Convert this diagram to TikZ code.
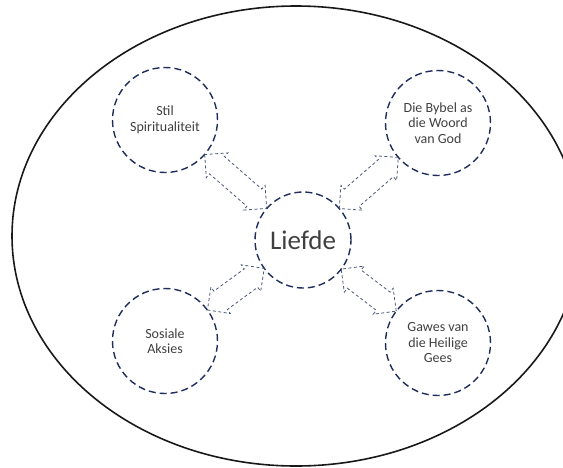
\documentclass[tikz,border=0pt]{standalone}
\usepackage{fontspec}
\setmainfont{Carlito}
\usetikzlibrary{calc}
\usetikzlibrary{shapes.arrows}
\definecolor{ringblue}{HTML}{1F2D5C}
\definecolor{arrowblue}{HTML}{4A5878}
\definecolor{textgray}{HTML}{404040}

\tikzset{
 theme/.style={circle, draw=ringblue, line width=1.4pt, dash pattern=on 7pt off 4pt,
   minimum size=105pt, inner sep=0pt, outer sep=0pt, align=center, text=textgray,
   font=\fontsize{14}{15.5}\selectfont},
 twoway/.style={double arrow, draw=arrowblue, line width=0.8pt, dash pattern=on 3pt off 2.5pt,
   inner xsep=0pt, inner ysep=11pt, double arrow head extend=5pt, outer sep=0pt},
}

\begin{document}
\begin{tikzpicture}[x=1pt,y=-1pt]
\useasboundingbox (0,0) rectangle (563,467);
\clip (0,0) rectangle (563,467);
\draw[line width=1.6pt, black!90] (296,236) ellipse [x radius=284, y radius=230];
% centre and the four themes
\node[theme, minimum size=96pt, font=\fontsize{27}{30}\selectfont] (liefde) at (303,240) {Liefde};
\node[theme] (stil) at (165,120) {Stil\\Spiritualiteit};
\node[theme] (bybel) at (438,123) {Die Bybel as\\die Woord\\van God};
\node[theme] (sosiale) at (165,341) {Sosiale\\Aksies};
\node[theme] (gawes) at (438,343) {Gawes van\\die Heilige\\Gees};
% double arrows between the rings
\foreach \o in {stil,bybel,sosiale,gawes}{
 \path (liefde) -- coordinate[pos=0] (a) coordinate[pos=1] (b) (\o);
 \path let \p1=($(b)-(a)$), \n1={veclen(\x1,\y1)}, \n2={atan2(\y1,\x1)} in
   node[twoway, minimum height=\n1, rotate=\n2] at ($(a)!0.5!(b)$) {};
}
\end{tikzpicture}
\end{document}
